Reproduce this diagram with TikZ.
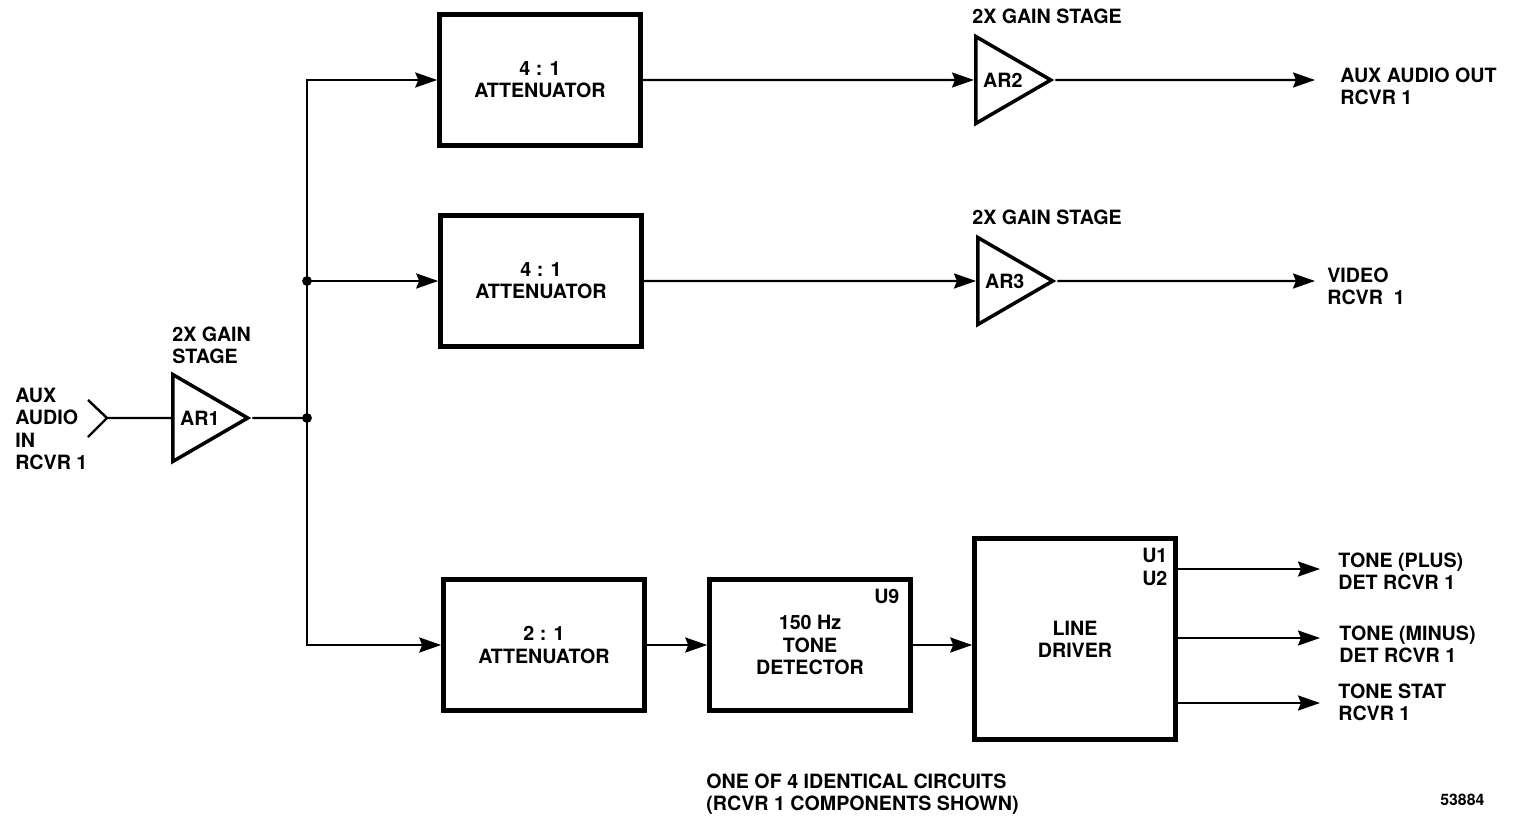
\documentclass[tikz,border=0pt]{standalone}
\usepackage{fontspec}
\setmainfont{TeX Gyre Heros}
\usetikzlibrary{arrows.meta,shapes.geometric}
\begin{document}
\begin{tikzpicture}[x=0.02cm, y=-0.02cm,
  font=\bfseries\fontsize{11.2}{12.6}\selectfont,
  blk/.style={draw, line width=2.6pt, minimum width=4.02cm, minimum height=2.62cm, inner sep=0pt, align=center},
  amp/.style={draw, isosceles triangle, isosceles triangle stretches, line width=2pt, minimum width=1.74cm, minimum height=1.5cm, inner sep=1pt},
  conn/.style={line width=1.4pt},
  arr/.style={conn, -{Stealth[length=4.4mm,width=3mm,inset=0.6mm]}},
  lbl/.style={inner sep=0pt, align=left}]
\useasboundingbox (0,0) rectangle (1513,824);

% blocks
\node[blk] (att1) at (540,80) {4 : 1\\ATTENUATOR};
\node[blk] (att2) at (541,281) {4 : 1\\ATTENUATOR};
\node[blk] (att3) at (544,645) {2 : 1\\ATTENUATOR};
\node[blk] (det) at (810,645) {150 Hz\\TONE\\DETECTOR};
\node[blk, minimum height=4.02cm] (ld) at (1075,639) {LINE\\DRIVER};
\node[amp, anchor=lower side] (ar1) at (171,418) {AR1};
\node[amp, anchor=lower side] (ar2) at (974,80) {AR2};
\node[amp, anchor=lower side] (ar3) at (976,281) {AR3};

% part numbers
\node[lbl, anchor=north east] (u9) at ([shift={(-13,12)}]det.north east) {U9};
\node[lbl, anchor=north east, align=right] (u12) at ([shift={(-10,12)}]ld.north east) {U1\\U2};

% input
\coordinate (inp) at (107,418);
\draw[conn] (88,400) -- (inp) -- (88,437);
\draw[conn] (inp) -- (ar1.west);
\coordinate (j2) at (307,418);
\coordinate (j1) at (j2 |- att2);
\draw[conn] (ar1.east) -- (j2);
\draw[arr] (j2) |- (att1);
\draw[arr] (j2) |- (att3);
\draw[arr] (j1) -- (att2);
\fill (j1) circle[radius=2.8pt];
\fill (j2) circle[radius=2.8pt];

\draw[arr] (att1) -- (ar2);
\draw[arr] (att2) -- (ar3);
\draw[arr] (att3) -- (det);
\draw[arr] (det.east) -- (det.east -| ld.west);

% outputs
\coordinate (o1) at (1315,80);
\coordinate (o2) at (1315,281);
\coordinate (o3) at (1320,569);
\coordinate (o4) at (1320,638);
\coordinate (o5) at (1320,703);
\draw[arr] (ar2.east) -- (o1);
\draw[arr] (ar3.east) -- (o2);
\foreach \o in {o3,o4,o5}
  \draw[arr] (ld.east |- \o) -- (\o);

% labels
\node[lbl, anchor=west] (inlbl) at (15,429) {AUX\\AUDIO\\IN\\RCVR 1};
\node[lbl, anchor=west] (g1) at (172,345) {2X GAIN\\STAGE};
\node[lbl, anchor=west] (g2) at (972,16) {2X GAIN STAGE};
\node[lbl, anchor=west] (g3) at (972,217) {2X GAIN STAGE};
\node[lbl, anchor=west] (auxout) at (1340,86) {AUX AUDIO OUT\\RCVR 1};
\node[lbl, anchor=west] (video) at (1327,286) {VIDEO\\RCVR\ \ 1};
\node[lbl, anchor=west] (tplus) at (1338,571) {TONE (PLUS)\\DET RCVR 1};
\node[lbl, anchor=west] (tminus) at (1339,644) {TONE (MINUS)\\DET RCVR 1};
\node[lbl, anchor=west] (tstat) at (1338,702) {TONE STAT\\RCVR 1};
\node[lbl, anchor=west] (note) at (706,794) {ONE OF 4 IDENTICAL CIRCUITS\\(RCVR 1 COMPONENTS SHOWN)};
\node[lbl, anchor=west, font=\bfseries\fontsize{9}{10}\selectfont] (fig) at (1440,800) {53884};
\end{tikzpicture}
\end{document}
